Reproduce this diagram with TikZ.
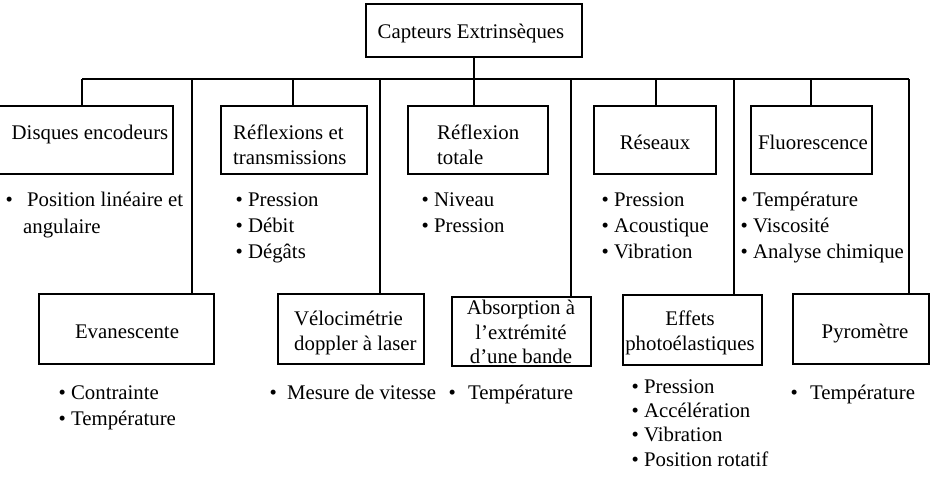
\documentclass[tikz,border=0pt]{standalone}
\usepackage{fontspec}
\setmainfont{Liberation Serif}
\newcommand{\bulit}{\textbullet\ }
\begin{document}
\begin{tikzpicture}[x=1pt,y=-1pt,
  box/.style={draw, line width=1.5pt, rectangle, inner sep=0pt},
  txt/.style={inner sep=0pt, font=\fontsize{20.8pt}{25pt}\selectfont},
  lst/.style={inner sep=0pt, anchor=base west, align=left, font=\fontsize{20.8pt}{26pt}\selectfont},
  wire/.style={line width=1.5pt}]
\useasboundingbox (0,0) rectangle (935,477);
% boxes
\node[box, minimum width=216pt, minimum height=53pt] (top) at (474,30.5) {};
\node[box, minimum width=175pt, minimum height=68pt] (disq) at (85.5,140) {};
\node[box, minimum width=146pt, minimum height=68pt] (refl) at (294,140) {};
\node[box, minimum width=140pt, minimum height=68pt] (tot) at (478,140) {};
\node[box, minimum width=122pt, minimum height=68pt] (res) at (655,140) {};
\node[box, minimum width=121pt, minimum height=68pt] (fluo) at (811.5,140) {};
\node[box, minimum width=175pt, minimum height=70pt] (evan) at (126.5,329) {};
\node[box, minimum width=146pt, minimum height=70pt] (velo) at (351,329) {};
\node[box, minimum width=139pt, minimum height=69pt] (abs) at (521.5,331.5) {};
\node[box, minimum width=139pt, minimum height=70pt] (eff) at (692.5,330) {};
\node[box, minimum width=136pt, minimum height=70pt] (pyro) at (861,329) {};
% box texts (multi-line nodes: base = last line)
\node[txt, anchor=base] (ttop) at (471,38) {Capteurs Extrinsèques};
\node[txt, anchor=base] (tdisq) at (90,139) {Disques encodeurs};
\node[txt, anchor=base west, align=left] (trefl) at (233,164) {Réflexions et\\transmissions};
\node[txt, anchor=base west, align=left] (ttot) at (437,164) {Réflexion\\totale};
\node[txt, anchor=base] (tres) at (655,149) {Réseaux};
\node[txt, anchor=base] (tfluo) at (813,149) {Fluorescence};
\node[txt, anchor=base] (tevan) at (127,338) {Evanescente};
\node[txt, anchor=base west, align=left] (tvelo) at (294,350) {Vélocimétrie\\doppler à laser};
\node[txt, anchor=base, align=center, font=\fontsize{20.8pt}{24.5pt}\selectfont] (tabs) at (521,363.5) {Absorption à\\l’extrémité\\d’une bande};
\node[txt, anchor=base, align=center] (teff) at (690,350) {Effets\\photoélastiques};
\node[txt, anchor=base] (tpyro) at (865,338) {Pyromètre};
% bus
\coordinate (bL) at (82,79);
\coordinate (bR) at (909,79);
\coordinate (b2) at (192,79);
\coordinate (b3) at (293,79);
\coordinate (b4) at (380,79);
\coordinate (b5) at (474,79);
\coordinate (b6) at (571,79);
\coordinate (b7) at (656,79);
\coordinate (b8) at (734,79);
\coordinate (b9) at (811,79);
\draw[wire] (top.south) -- (b5);
\draw[wire] (bL) -- (bR);
\draw[wire] (bL) -- (bL |- disq.north);
\draw[wire] (b2) -- (b2 |- evan.north);
\draw[wire] (b3) -- (b3 |- refl.north);
\draw[wire] (b4) -- (b4 |- velo.north);
\draw[wire] (b5) -- (b5 |- tot.north);
\draw[wire] (b6) -- (b6 |- abs.north);
\draw[wire] (b7) -- (b7 |- res.north);
\draw[wire] (b8) -- (b8 |- eff.north);
\draw[wire] (b9) -- (b9 |- fluo.north);
\draw[wire] (bR) -- (bR |- pyro.north);
% lists (multi-line nodes: base = last line)
\node[lst] (l1) at (5.4,206) {\textbullet\hspace{14.3pt}Position linéaire et};
\node[lst] (l1b) at (23,233) {angulaire};
\node[lst] (l2) at (235.4,258) {\bulit Pression\\\bulit Débit\\\bulit Dégâts};
\node[lst] (l3) at (421.4,232) {\bulit Niveau\\\bulit Pression};
\node[lst] (l4) at (601.4,258) {\bulit Pression\\\bulit Acoustique\\\bulit Vibration};
\node[lst] (l5) at (740.5,258) {\bulit Température\\\bulit Viscosité\\\bulit Analyse chimique};
\node[lst] (l6) at (58.4,425) {\bulit Contrainte\\\bulit Température};
\node[lst] (l7) at (269.4,399) {\textbullet\hspace{10.3pt}Mesure de vitesse};
\node[lst] (l8) at (448.4,399) {\textbullet\hspace{12.3pt}Température};
\node[lst, font=\fontsize{20.8pt}{24.4pt}\selectfont] (l9) at (631.4,466.2) {\bulit Pression\\\bulit Accélération\\\bulit Vibration\\\bulit Position rotatif};
\node[lst] (l10) at (790.4,399) {\textbullet\hspace{12.3pt}Température};
\end{tikzpicture}
\end{document}
